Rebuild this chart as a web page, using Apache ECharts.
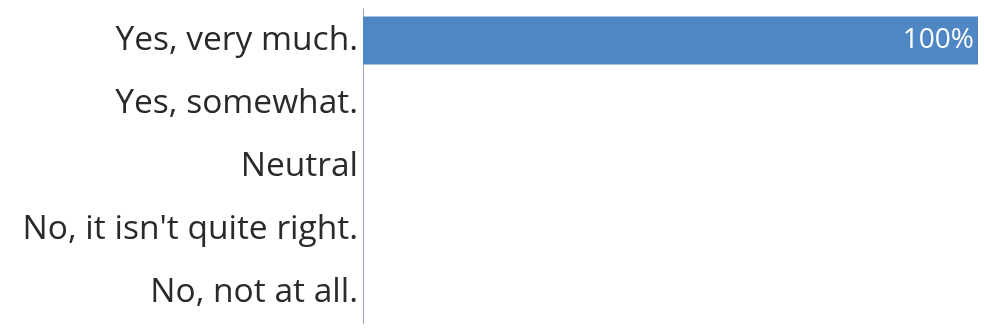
<!DOCTYPE html>
<html><head><meta charset="utf-8">
<script src="https://cdn.jsdelivr.net/npm/echarts@6/dist/echarts.min.js"></script>
<style>html,body{margin:0;padding:0;background:#fff}#c{width:984px;height:335px}</style>
</head><body><div id="c"></div>
<script>
const categories = ["Yes, very much.", "Yes, somewhat.", "Neutral", "No, it isn't quite right.", "No, not at all."];
const values = [100, 0, 0, 0, 0];
const chart = echarts.init(document.getElementById('c'));
chart.setOption({
  animation: false,
  grid: {left: 363, right: 6, top: 9, bottom: 11},
  xAxis: {type: 'value', min: 0, max: 100, show: false},
  yAxis: {
    type: 'category', inverse: true, data: categories,
    axisLine: {show: true, lineStyle: {color: '#9aa6b8', width: 1}},
    axisTick: {show: false},
    axisLabel: {fontFamily: 'Open Sans', fontSize: 33.5, color: '#2a2a2a', margin: 5}
  },
  series: [{
    type: 'bar', data: values, barCategoryGap: '24%',
    itemStyle: {color: '#4f87c5'},
    label: {show: true, position: 'insideRight', formatter: p => p.value > 0 ? p.value + '%' : '',
      color: '#fff', fontFamily: 'Open Sans', fontSize: 28, distance: 4}
  }]
});
</script></body></html>
